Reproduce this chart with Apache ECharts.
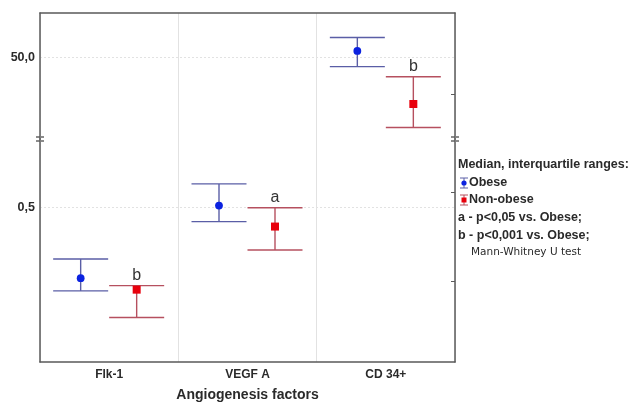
<!DOCTYPE html>
<html>
<head>
<meta charset="utf-8">
<script src="https://cdn.jsdelivr.net/npm/echarts@6/dist/echarts.min.js"></script>
<style>
html,body{margin:0;padding:0;background:#fff;}
#chart{width:632px;height:407px;}
</style>
</head>
<body>
<div id="chart"></div>
<script>
// ---- data ----
const categories = ['Flk-1', 'VEGF A', 'CD 34+'];
// which categories are drawn on the upper (broken) segment of the axis
const upperSegment = [false, false, true];
// Obese: median and interquartile range
const obeseQ1     = [0.230, 0.454, 47.1];
const obeseMedian = [0.271, 0.506, 51.9];
const obeseQ3     = [0.333, 0.576, 56.0];
// Non-obese: median and interquartile range
const nonObeseQ1     = [0.144, 0.362, 28.5];
const nonObeseMedian = [0.234, 0.438, 35.7];
const nonObeseQ3     = [0.247, 0.499, 44.0];
// significance letters vs. Obese
const significance = ['b', 'a', 'b'];
// axis tick labels
const upperTickValue = 50, upperTickLabel = '50,0';
const lowerTickValue = 0.5, lowerTickLabel = '0,5';

const FONT = '"Liberation Sans", Arial, sans-serif';
const SMALLFONT = '"DejaVu Sans", Verdana, sans-serif';
const textColor = '#2a2a2a';
const frameColor = '#5a5a5a';
const gridColor = '#e2e2e2';
const obeseLine = '#5a5ea6', obeseMarker = '#0b22e0';
const nonLine = '#b6505f', nonMarker = '#e8000c';

function buildData(q1, med, q3, upper) {
  const d = [], labels = [];
  for (let i = 0; i < categories.length; i++) {
    if (upperSegment[i] === upper) {
      d.push([i, q1[i], med[i], q3[i]]);
      labels.push(significance[i]);
    }
  }
  return {d, labels};
}

function makeRender(offset, lineColor, markerColor, shape, labels) {
  return function (params, api) {
    const cat = api.value(0);
    const c = api.coord([cat, api.value(2)]);
    const lo = api.coord([cat, api.value(1)]);
    const hi = api.coord([cat, api.value(3)]);
    const x = c[0] + offset;
    const half = 27.5;
    const ls = {stroke: lineColor, lineWidth: 1.4};
    const children = [
      {type: 'line', shape: {x1: x, y1: hi[1], x2: x, y2: lo[1]}, style: ls},
      {type: 'line', shape: {x1: x - half, y1: hi[1], x2: x + half, y2: hi[1]}, style: ls},
      {type: 'line', shape: {x1: x - half, y1: lo[1], x2: x + half, y2: lo[1]}, style: ls}
    ];
    if (shape === 'circle') {
      children.push({type: 'circle', shape: {cx: x, cy: c[1], r: 3.9}, style: {fill: markerColor}});
    } else {
      children.push({type: 'rect', shape: {x: x - 4, y: c[1] - 4, width: 8, height: 8}, style: {fill: markerColor}});
    }
    if (labels) {
      children.push({type: 'text', x: x, y: hi[1] - 10,
        style: {text: labels[params.dataIndex], fill: '#333', font: '16px ' + FONT, align: 'center', verticalAlign: 'middle'}});
    }
    return {type: 'group', children};
  };
}

const obU = buildData(obeseQ1, obeseMedian, obeseQ3, true);
const obL = buildData(obeseQ1, obeseMedian, obeseQ3, false);
const noU = buildData(nonObeseQ1, nonObeseMedian, nonObeseQ3, true);
const noL = buildData(nonObeseQ1, nonObeseMedian, nonObeseQ3, false);

const axisLine = {show: true, lineStyle: {color: frameColor, width: 1.5}};
const legendFont = 'bold 12.5px ' + FONT;

const chart = echarts.init(document.getElementById('chart'), null, {renderer: 'canvas'});
chart.setOption({
  animation: false,
  backgroundColor: '#fff',
  grid: [
    {left: 40, right: 177, top: 13, height: 126},
    {left: 40, right: 177, top: 139, height: 225}
  ],
  xAxis: [
    {gridIndex: 0, type: 'category', data: categories, position: 'top',
      axisLine, axisTick: {inside: true, length: 4, lineStyle: {color: frameColor}},
      axisLabel: {show: false}, splitLine: {show: true, lineStyle: {color: gridColor}}},
    {gridIndex: 1, type: 'category', data: categories, position: 'bottom',
      axisLine, axisTick: {inside: true, length: 4, lineStyle: {color: frameColor}},
      axisLabel: {fontSize: 12, color: textColor, fontFamily: FONT, fontWeight: 'bold', margin: 7},
      name: 'Angiogenesis factors', nameLocation: 'middle', nameGap: 26,
      nameTextStyle: {fontSize: 14, color: textColor, fontFamily: FONT, fontWeight: 'bold'},
      splitLine: {show: true, lineStyle: {color: gridColor}}},
    {gridIndex: 1, type: 'category', data: categories, position: 'bottom',
      axisLine: {show: false}, axisTick: {alignWithLabel: true, inside: true, length: 4, lineStyle: {color: frameColor}},
      axisLabel: {show: false}, splitLine: {show: false}}
  ],
  yAxis: [
    {gridIndex: 0, type: 'value', min: 25, max: 63.5, interval: 25, position: 'left',
      axisLine, axisTick: {show: false},
      axisLabel: {fontSize: 12.5, color: textColor, fontFamily: FONT, fontWeight: 'bold', margin: 5,
        formatter: v => (v === upperTickValue ? upperTickLabel : '')},
      splitLine: {show: true, lineStyle: {color: ['rgba(0,0,0,0)', gridColor], type: [2, 2]}}},
    {gridIndex: 1, type: 'value', min: 0, max: 0.7212, interval: 0.5, position: 'left',
      axisLine, axisTick: {show: false},
      axisLabel: {fontSize: 12.5, color: textColor, fontFamily: FONT, fontWeight: 'bold', margin: 5, showMaxLabel: false,
        formatter: v => (v === lowerTickValue ? lowerTickLabel : '')},
      splitLine: {show: true, lineStyle: {color: ['rgba(0,0,0,0)', gridColor], type: [2, 2]}}},
    {gridIndex: 0, type: 'value', min: 25, max: 63.5, position: 'right',
      axisLine, axisTick: {show: true, inside: true, length: 4, customValues: [38.75], lineStyle: {color: frameColor}},
      axisLabel: {show: false}, splitLine: {show: false}},
    {gridIndex: 1, type: 'value', min: 0, max: 0.7212, position: 'right',
      axisLine, axisTick: {show: true, inside: true, length: 4, customValues: [0.26, 0.55], lineStyle: {color: frameColor}},
      axisLabel: {show: false}, splitLine: {show: false}}
  ],
  series: [
    {type: 'custom', xAxisIndex: 0, yAxisIndex: 0, data: obU.d, encode: {x: 0, y: [1, 2, 3]},
      renderItem: makeRender(-28.5, obeseLine, obeseMarker, 'circle', null)},
    {type: 'custom', xAxisIndex: 0, yAxisIndex: 0, data: noU.d, encode: {x: 0, y: [1, 2, 3]},
      renderItem: makeRender(27.5, nonLine, nonMarker, 'rect', noU.labels)},
    {type: 'custom', xAxisIndex: 1, yAxisIndex: 1, data: obL.d, encode: {x: 0, y: [1, 2, 3]},
      renderItem: makeRender(-28.5, obeseLine, obeseMarker, 'circle', null)},
    {type: 'custom', xAxisIndex: 1, yAxisIndex: 1, data: noL.d, encode: {x: 0, y: [1, 2, 3]},
      renderItem: makeRender(27.5, nonLine, nonMarker, 'rect', noL.labels)}
  ],
  graphic: [
    // axis break marks
    {type: 'rect', shape: {x: 35, y: 137, width: 10, height: 4}, style: {fill: '#fff'}},
    {type: 'line', shape: {x1: 36, y1: 137, x2: 44, y2: 137}, style: {stroke: frameColor, lineWidth: 1.4}},
    {type: 'line', shape: {x1: 36, y1: 141, x2: 44, y2: 141}, style: {stroke: frameColor, lineWidth: 1.4}},
    {type: 'rect', shape: {x: 450, y: 137, width: 10, height: 4}, style: {fill: '#fff'}},
    {type: 'line', shape: {x1: 451, y1: 137, x2: 459, y2: 137}, style: {stroke: frameColor, lineWidth: 1.4}},
    {type: 'line', shape: {x1: 451, y1: 141, x2: 459, y2: 141}, style: {stroke: frameColor, lineWidth: 1.4}},
    // legend
    {type: 'text', x: 458, y: 165, style: {text: 'Median, interquartile ranges:', fill: textColor, font: legendFont, verticalAlign: 'middle'}},
    {type: 'group', x: 464, y: 183, children: [
      {type: 'line', shape: {x1: 0, y1: -5, x2: 0, y2: 5}, style: {stroke: obeseLine, lineWidth: 1}},
      {type: 'line', shape: {x1: -4, y1: -5, x2: 4, y2: -5}, style: {stroke: obeseLine, lineWidth: 1}},
      {type: 'line', shape: {x1: -4, y1: 5, x2: 4, y2: 5}, style: {stroke: obeseLine, lineWidth: 1}},
      {type: 'circle', shape: {cx: 0, cy: 0, r: 2.6}, style: {fill: obeseMarker}}
    ]},
    {type: 'text', x: 469, y: 183, style: {text: 'Obese', fill: textColor, font: legendFont, verticalAlign: 'middle'}},
    {type: 'group', x: 464, y: 200, children: [
      {type: 'line', shape: {x1: 0, y1: -5, x2: 0, y2: 5}, style: {stroke: nonLine, lineWidth: 1}},
      {type: 'line', shape: {x1: -4, y1: -5, x2: 4, y2: -5}, style: {stroke: nonLine, lineWidth: 1}},
      {type: 'line', shape: {x1: -4, y1: 5, x2: 4, y2: 5}, style: {stroke: nonLine, lineWidth: 1}},
      {type: 'rect', shape: {x: -2.5, y: -2.5, width: 5, height: 5}, style: {fill: nonMarker}}
    ]},
    {type: 'text', x: 469, y: 200, style: {text: 'Non-obese', fill: textColor, font: legendFont, verticalAlign: 'middle'}},
    {type: 'text', x: 458, y: 218, style: {text: 'a - p<0,05 vs. Obese;', fill: textColor, font: legendFont, verticalAlign: 'middle'}},
    {type: 'text', x: 458, y: 236, style: {text: 'b - p<0,001 vs. Obese;', fill: textColor, font: legendFont, verticalAlign: 'middle'}},
    {type: 'text', x: 471, y: 252, style: {text: 'Mann-Whitney U test', fill: textColor, font: '10.5px ' + SMALLFONT, verticalAlign: 'middle'}}
  ]
});
</script>
</body>
</html>
